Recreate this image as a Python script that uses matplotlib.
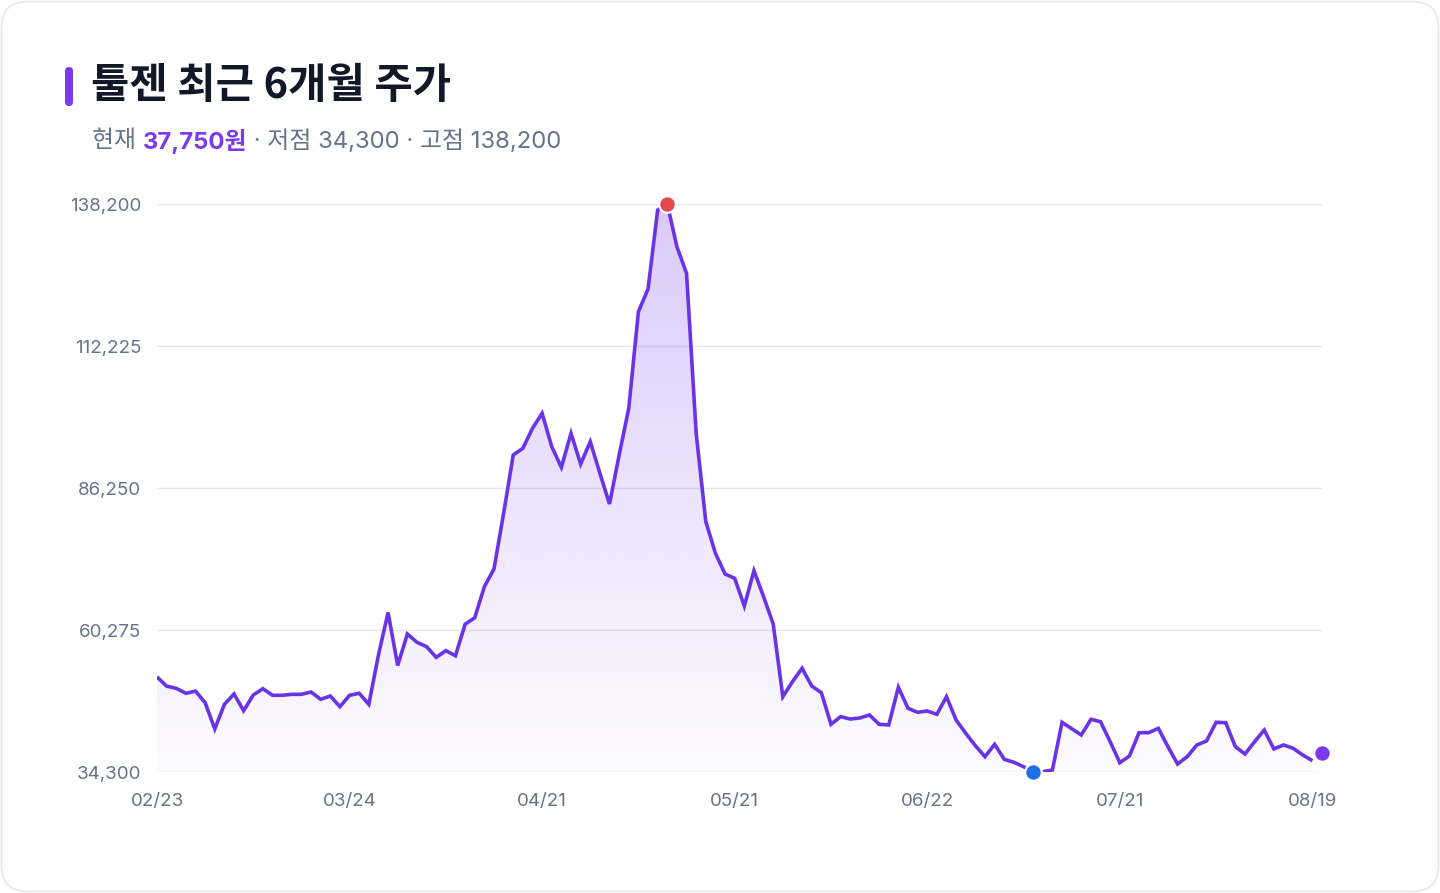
import matplotlib
matplotlib.use("Agg")
import matplotlib.pyplot as plt
import numpy as np
from matplotlib.patches import FancyBboxPatch, Polygon

# ---------------- data ----------------
prices = [
    51700, 50000, 49600, 48700, 49100, 46980, 42170, 46680, 48570, 45510,
    48390, 49540, 48330, 48330, 48510, 48510, 48930, 47600, 48200, 46250,
    48330, 48700, 46680, 55700, 63480, 53780, 59540, 58030, 57220, 55280,
    56490, 55570, 61320, 62520, 68200, 71430, 81620, 92290, 93510, 97170,
    99910, 93800, 90040, 96250, 90640, 94720, 88940, 83320, 92290, 100830,
    118500, 122650, 137100, 138200, 130390, 125520, 96250, 80090, 74300, 70520,
    69730, 64660, 71120, 66370, 61370, 48070, 50820, 53270, 50030, 48810,
    43030, 44420, 43990, 44180, 44730, 43030, 42900, 49790, 45950, 45220,
    45460, 44850, 48070, 43810, 41380, 39110, 37100, 39370, 36620, 36070,
    35270, 34300, 34360, 34670, 43390, 42220, 41070, 43940, 43500, 39840,
    36000, 37230, 41490, 41490, 42290, 38930, 35760, 37100, 39240, 39970,
    43390, 43320, 38930, 37590, 39840, 41980, 38510, 39240, 38640, 37410,
    36370,
]
tick_labels = ["02/23", "03/24", "04/21", "05/21", "06/22", "07/21", "08/19"]
tick_step = 20
current_price = 37750
low_price = 34300
high_price = 138200
y_ticks = [34300, 60275, 86250, 112225, 138200]

title = "툴젠 최근 6개월 주가"

# ---------------- style ----------------
LINE = "#6a34e6"
PURPLE = "#7c3aed"
RED = "#e5484d"
BLUE = "#1f6fe8"
GRAY = "#64748b"
DARK = "#111827"
GRID = "#e5e7eb"

FONT_NUM = ["Inter", "Noto Sans CJK KR", "DejaVu Sans"]
FONT_KR = ["Noto Sans CJK KR", "DejaVu Sans"]
plt.rcParams["font.family"] = FONT_NUM

W, H = 1440, 893
fig = plt.figure(figsize=(W / 100, H / 100), dpi=100)
fig.patch.set_facecolor("white")

# card border
card = FancyBboxPatch((1.5 / W, 1.5 / H), (W - 3) / W, (H - 3) / H,
                      boxstyle="round,pad=0,rounding_size=0.018",
                      transform=fig.transFigure, facecolor="none",
                      edgecolor="#e4e6ea", linewidth=1.2, zorder=-5,
                      mutation_aspect=W / H)
fig.patches.append(card)

# accent bar
bar = FancyBboxPatch((65 / W, (H - 106) / H), 8 / W, 39 / H,
                     boxstyle="round,pad=0,rounding_size=0.0028",
                     transform=fig.transFigure, facecolor=PURPLE,
                     edgecolor="none", mutation_aspect=W / H)
fig.patches.append(bar)

fig.text(91 / W, (H - 86) / H, title, fontsize=30, fontweight="heavy",
         color=DARK, va="center", ha="left", family=FONT_KR)

# subtitle pieces
renderer = fig.canvas.get_renderer()
x0 = 92 / W
ysub = (H - 141) / H
pieces = [
    ("현재 ", GRAY, "normal"),
    (f"{current_price:,}원", PURPLE, "bold"),
    (f" · 저점 {low_price:,} · 고점 {high_price:,}", GRAY, "normal"),
]
for txt, col, wt in pieces:
    t = fig.text(x0, ysub, txt, fontsize=17.2, color=col, fontweight=wt,
                 va="center", ha="left", family=FONT_NUM)
    bb = t.get_window_extent(renderer=renderer)
    x0 += bb.width / W

# ---------------- axes ----------------
left, right = 157, 1322
top, bottom = 204, 772
ax = fig.add_axes([left / W, (H - bottom) / H, (right - left) / W, (bottom - top) / H])
ax.set_facecolor("none")
x = np.arange(len(prices))
y = np.array(prices, dtype=float)

ax.set_xlim(0, len(prices))
ax.set_ylim(y_ticks[0], y_ticks[-1])

# gradient fill
verts = [(x[0], y_ticks[0])] + list(zip(x, y)) + [(x[-1], y_ticks[0])]
poly = Polygon(verts, closed=True, facecolor="none", edgecolor="none")
ax.add_patch(poly)
grad = np.linspace(0.27, 0.02, 256).reshape(-1, 1)
rgba = np.zeros((256, 1, 4))
rgba[..., 0] = 124 / 255
rgba[..., 1] = 58 / 255
rgba[..., 2] = 237 / 255
rgba[..., 3] = grad
im = ax.imshow(rgba, aspect="auto", extent=[0, len(prices), y_ticks[0], y_ticks[-1]],
               origin="upper", zorder=1, interpolation="bilinear")
im.set_clip_path(poly)

ax.plot(x, y, color=LINE, linewidth=2.6, zorder=3, solid_joinstyle="miter",
        solid_capstyle="butt")

# markers
i_hi = int(np.argmax(y))
i_lo = int(np.argmin(y))
ax.plot([i_hi], [y[i_hi]], "o", markersize=12, color=RED, markeredgecolor="white",
        markeredgewidth=1.6, zorder=5, clip_on=False)
ax.plot([i_lo], [y[i_lo]], "o", markersize=12, color=BLUE, markeredgecolor="white",
        markeredgewidth=1.6, zorder=5, clip_on=False)
ax.plot([len(prices)], [current_price], "o", markersize=12, color=PURPLE,
        markeredgecolor="white", markeredgewidth=1.6, zorder=5, clip_on=False)

ax.set_yticks(y_ticks)
ax.set_yticklabels([f"{v:,}" for v in y_ticks])
ax.set_xticks([i * tick_step for i in range(len(tick_labels))])
ax.set_xticklabels(tick_labels)
ax.grid(axis="y", color=GRID, linewidth=1.0, zorder=0)
ax.set_axisbelow(True)
for s in ax.spines.values():
    s.set_visible(False)
ax.tick_params(axis="both", length=0, labelsize=13.5, labelcolor=GRAY)
ax.tick_params(axis="y", pad=11.5)
ax.tick_params(axis="x", pad=15)

fig.savefig("out.png", dpi=100, facecolor="white")
